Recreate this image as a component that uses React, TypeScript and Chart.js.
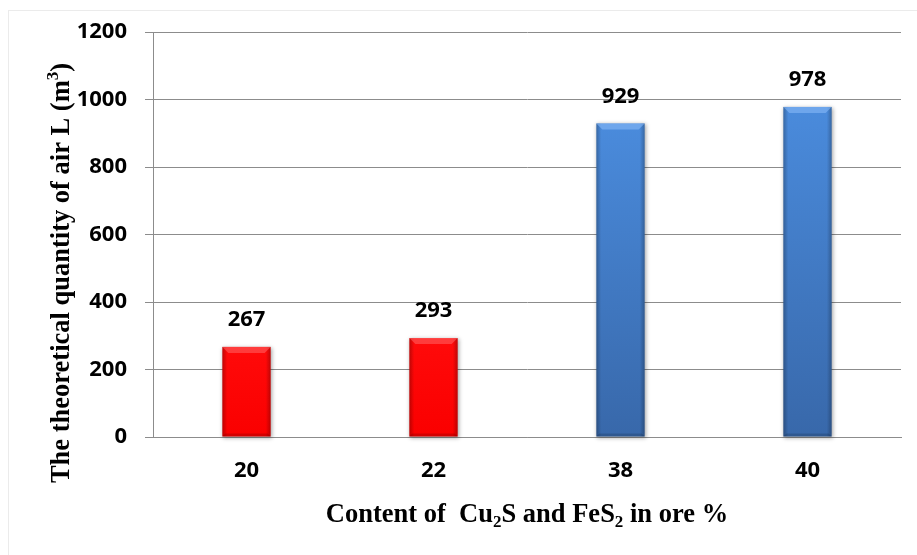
import React, { useEffect, useRef } from 'react';
import { Chart, registerables } from 'chart.js';

Chart.register(...registerables);

const categories: string[] = ['20', '22', '38', '40'];
const values: number[] = [267, 293, 929, 978];
const barGroups: string[] = ['red', 'red', 'blue', 'blue'];
const yMin = 0;
const yMax = 1200;
const yStep = 200;

type Seg = { t: string; off?: number };
const xTitle: Seg[] = [
  { t: 'Content of  Cu' },
  { t: '2', off: 1 },
  { t: 'S and FeS' },
  { t: '2', off: 1 },
  { t: ' in ore %' },
];
const yTitle: Seg[] = [
  { t: 'The theoretical quantity of air L (m' },
  { t: '3', off: -1 },
  { t: ')' },
];

const TITLE_FONT = '"Liberation Serif", "Times New Roman", serif';
const LABEL_FONT = '"Open Sans", "Noto Sans", sans-serif';

function drawRich(ctx: CanvasRenderingContext2D, segs: Seg[], cx: number, y: number, size: number) {
  const small = Math.round(size * 0.65);
  const fontFor = (s: Seg) => `bold ${s.off ? small : size}px ${TITLE_FONT}`;
  let total = 0;
  const widths = segs.map((s) => {
    ctx.font = fontFor(s);
    const w = ctx.measureText(s.t).width;
    total += w;
    return w;
  });
  let x = cx - total / 2;
  ctx.textAlign = 'left';
  ctx.textBaseline = 'alphabetic';
  ctx.fillStyle = '#000';
  segs.forEach((s, i) => {
    ctx.font = fontFor(s);
    const dy = s.off === 1 ? size * 0.2 : s.off === -1 ? -size * 0.38 : 0;
    ctx.fillText(s.t, x, y + dy);
    x += widths[i];
  });
}

const barPainter = {
  id: 'barPainter',
  afterDatasetsDraw(chart: any) {
    const ctx: CanvasRenderingContext2D = chart.ctx;
    const meta = chart.getDatasetMeta(0);
    meta.data.forEach((el: any, i: number) => {
      const { x, y, base, width } = el.getProps(['x', 'y', 'base', 'width'], true);
      const left = x - width / 2;
      const right = x + width / 2;
      const top = Math.min(y, base);
      const h = Math.abs(base - y);
      const isRed = barGroups[i] === 'red';
      ctx.save();
      ctx.shadowColor = 'rgba(0,0,0,0.35)';
      ctx.shadowBlur = 4;
      ctx.shadowOffsetX = 1;
      ctx.shadowOffsetY = 1;
      let g: CanvasGradient = ctx.createLinearGradient(0, top, 0, base);
      if (isRed) {
        g.addColorStop(0, '#ff0a0a');
        g.addColorStop(1, '#fa0000');
      } else {
        g.addColorStop(0, '#4a8bdc');
        g.addColorStop(1, '#3868aa');
      }
      ctx.fillStyle = g;
      ctx.fillRect(left, top, width, h);
      ctx.restore();
      ctx.save();
      const eg = ctx.createLinearGradient(left, 0, right, 0);
      eg.addColorStop(0, 'rgba(0,0,0,0.25)');
      eg.addColorStop(0.1, 'rgba(0,0,0,0)');
      eg.addColorStop(0.9, 'rgba(0,0,0,0)');
      eg.addColorStop(1, 'rgba(0,0,0,0.25)');
      ctx.fillStyle = eg;
      ctx.fillRect(left, top, width, h);
      const b = Math.min(6, h / 2);
      ctx.beginPath();
      ctx.moveTo(left, top);
      ctx.lineTo(right, top);
      ctx.lineTo(right - b, top + b);
      ctx.lineTo(left + b, top + b);
      ctx.closePath();
      ctx.fillStyle = isRed ? 'rgba(255,110,110,0.5)' : 'rgba(140,190,250,0.55)';
      ctx.fill();
      ctx.beginPath();
      ctx.moveTo(left, base);
      ctx.lineTo(right, base);
      ctx.lineTo(right - 3, base - 3);
      ctx.lineTo(left + 3, base - 3);
      ctx.closePath();
      ctx.fillStyle = 'rgba(0,0,0,0.15)';
      ctx.fill();
      ctx.restore();
    });
  },
  afterDraw(chart: any) {
    const ctx: CanvasRenderingContext2D = chart.ctx;
    const meta = chart.getDatasetMeta(0);
    ctx.save();
    ctx.font = `bold 22px ${LABEL_FONT}`;
    ctx.fillStyle = '#000';
    ctx.textAlign = 'center';
    ctx.textBaseline = 'middle';
    meta.data.forEach((el: any, i: number) => {
      const { x, y } = el.getProps(['x', 'y'], true);
      ctx.fillText(String(values[i]), x, y - 27);
    });
    ctx.restore();

    const area = chart.chartArea;
    ctx.save();
    drawRich(ctx, xTitle, (area.left + area.right) / 2, 511, 26.5);
    ctx.restore();

    ctx.save();
    ctx.translate(59.5, 262);
    ctx.rotate(-Math.PI / 2);
    drawRich(ctx, yTitle, 0, 0, 26.5);
    ctx.restore();
  },
};

export default function App() {
  const ref = useRef<HTMLCanvasElement | null>(null);
  useEffect(() => {
    document.body.style.overflow = 'hidden';
    const canvas = ref.current;
    if (!canvas) return;
    const chart = new Chart(canvas, {
      type: 'bar',
      data: {
        labels: categories,
        datasets: [
          {
            data: values,
            backgroundColor: 'rgba(0,0,0,0)',
            borderWidth: 0,
            categoryPercentage: 1,
            barPercentage: 0.258,
          },
        ],
      },
      options: {
        responsive: false,
        animation: false,
        layout: { padding: { left: 0, right: 16, top: 21, bottom: 0 } },
        plugins: {
          legend: { display: false },
          tooltip: { enabled: false },
          title: { display: false },
        },
        scales: {
          x: {
            grid: { display: false },
            border: { display: true, color: '#8c8c8c', width: 1 },
            ticks: {
              color: '#000',
              font: { family: LABEL_FONT, size: 22, weight: 'bold' },
              padding: 13,
            },
            afterFit: (s: any) => {
              s.height = 118;
            },
          },
          y: {
            min: yMin,
            max: yMax,
            ticks: {
              stepSize: yStep,
              color: '#000',
              font: { family: LABEL_FONT, size: 22, weight: 'bold' },
              padding: 18,
              callback: (v: any) => String(v),
            },
            grid: { color: '#8c8c8c', lineWidth: 1, tickLength: 8, drawTicks: true },
            border: { display: true, color: '#8c8c8c', width: 1 },
            afterFit: (s: any) => {
              s.width = 144;
              s.paddingTop = 0;
              s.paddingBottom = 0;
            },
          },
        },
      },
      plugins: [barPainter],
    });
    return () => chart.destroy();
  }, []);

  return (
    <div
      style={{
        position: 'absolute',
        left: 8,
        top: 10,
        width: 908,
        height: 544,
        borderLeft: '1px solid #ebebeb',
        borderTop: '1px solid #ebebeb',
        background: '#fff',
      }}
    >
      <canvas ref={ref} width={908} height={544} style={{ display: 'block' }} />
    </div>
  );
}
